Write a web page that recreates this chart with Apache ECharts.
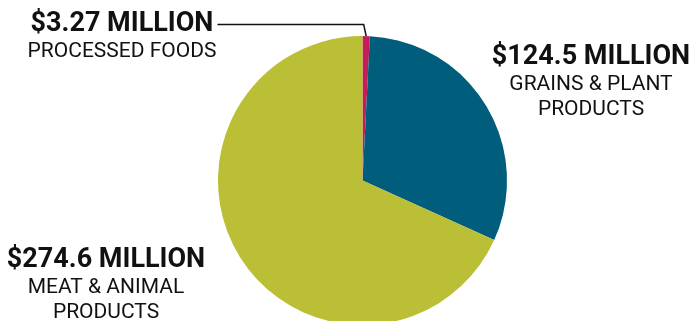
<!DOCTYPE html>
<html>
<head>
<meta charset="utf-8">
<script src="https://cdn.jsdelivr.net/npm/echarts@6/dist/echarts.min.js"></script>
<style>
html, body { margin: 0; padding: 0; background: #fff; }
#food-chart { width: 692px; height: 321px; }
</style>
</head>
<body>
<div id="food-chart"></div>
<script>
// values in millions of dollars
const categories = ['PROCESSED FOODS', 'GRAINS & PLANT\nPRODUCTS', 'MEAT & ANIMAL\nPRODUCTS'];
const values = [3.27, 124.5, 274.6];
const valueLabels = ['$3.27 MILLION', '$124.5 MILLION', '$274.6 MILLION'];
const colors = ['#c41e5a', '#005e7c', '#bbbf35'];

// label block placement: [center x, top y]
const labelSpots = [[122, 10], [591, 43], [106, 246]];
const BOLD_LH = 29;

const chart = echarts.init(document.getElementById('food-chart'));

chart.setOption({
  animation: false,
  series: [
    {
      type: 'pie',
      center: [362.5, 180.5],
      radius: 144.5,
      startAngle: 90,
      clockwise: true,
      avoidLabelOverlap: false,
      silent: true,
      itemStyle: { borderWidth: 0 },
      label: {
        show: true,
        position: 'outside',
        color: '#111',
        fontFamily: 'Roboto',
        formatter: (p) => {
          const lines = categories[p.dataIndex].split('\n').map((t) => `{n|${t}}`);
          return [`{v|${valueLabels[p.dataIndex]}}`, ...lines].join('\n');
        },
        rich: {
          v: {
            fontFamily: 'Roboto',
            fontWeight: 'bold',
            fontSize: 27,
            lineHeight: BOLD_LH,
            color: '#111',
            align: 'center',
          },
          n: {
            fontFamily: 'Roboto',
            fontSize: 21,
            lineHeight: 25,
            color: '#111',
            align: 'center',
          },
        },
      },
      labelLine: {
        show: true,
        length: 10,
        length2: 10,
        smooth: false,
        lineStyle: { color: '#111', width: 1.5 },
      },
      labelLayout: (params) => {
        const i = params.dataIndex;
        const [cx, top] = labelSpots[i];
        const out = {
          x: cx, y: top, align: 'center', verticalAlign: 'top',
        };
        if (i === 0 && params.labelLinePoints) {
          const a = params.labelLinePoints[0];
          const lineY = top + BOLD_LH / 2;
          out.labelLinePoints = [
            [a[0], a[1]],
            [a[0] - 2.5, lineY],
            [cx + params.labelRect.width / 2 + 1, lineY],
          ];
        }
        return out;
      },
      data: values.map((v, i) => ({
        name: categories[i],
        value: v,
        itemStyle: { color: colors[i] },
        labelLine: { show: i === 0 },
      })),
    },
  ],
});
</script>
</body>
</html>
